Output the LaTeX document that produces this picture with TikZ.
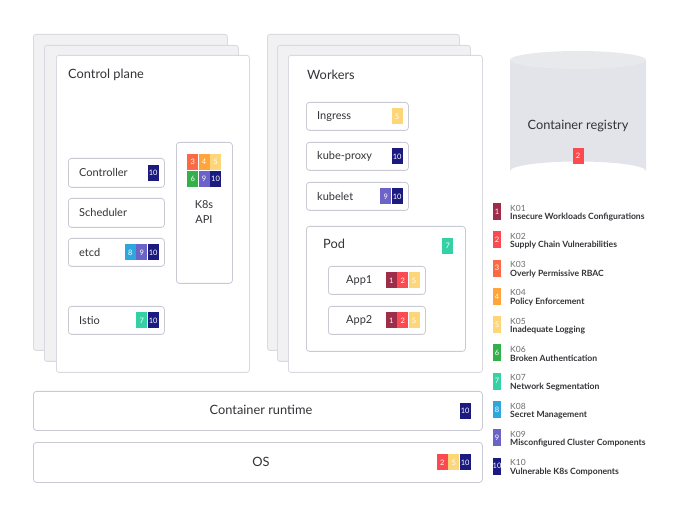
\documentclass[tikz,border=0pt]{standalone}
\usepackage{fontspec}
\setmainfont{Lato}
\definecolor{kA}{HTML}{9E2D4A}
\definecolor{kB}{HTML}{FB4A50}
\definecolor{kC}{HTML}{F96A45}
\definecolor{kD}{HTML}{FFA53B}
\definecolor{kE}{HTML}{FDD67A}
\definecolor{kF}{HTML}{34B04A}
\definecolor{kG}{HTML}{33D1A4}
\definecolor{kH}{HTML}{2EA8DC}
\definecolor{kI}{HTML}{6B63C8}
\definecolor{kJ}{HTML}{1B1A80}
\definecolor{sheetgray}{HTML}{F1F1F3}
\definecolor{sheetline}{HTML}{D9D9E0}
\definecolor{boxline}{HTML}{C9CAD4}
\definecolor{txt}{HTML}{333338}
\definecolor{cylfill}{HTML}{E3E4E9}
\definecolor{cyltop}{HTML}{E8E9ED}
\tikzset{
  sheetback/.style={draw=sheetline, fill=sheetgray, rounded corners=2.5pt, line width=0.8pt, inner sep=0pt},
  panel/.style={draw=sheetline, fill=white, rounded corners=2.5pt, line width=0.8pt, inner sep=0pt},
  comp/.style={draw=boxline, fill=white, rounded corners=3pt, line width=0.8pt, inner sep=0pt},
  lbl/.style={text=txt, font=\fontsize{11}{12}\selectfont, inner sep=0pt},
  title/.style={text=txt, font=\fontsize{12.8}{14}\selectfont, inner sep=0pt},
  badge/.style={rectangle, minimum width=11pt, minimum height=16pt, inner sep=0pt, text=white, font=\fontsize{7.5}{7.5}\selectfont},
  lbadge/.style={rectangle, minimum width=7.5pt, minimum height=17pt, inner sep=0pt, text=white, font=\fontsize{7.5}{7.5}\selectfont},
  lcode/.style={text=gray!85!black, font=\fontsize{8.5}{9}\selectfont, inner sep=0pt, anchor=west},
  lname/.style={text=txt, font=\bfseries\fontsize{8.6}{9}\selectfont, inner sep=0pt, anchor=west},
}
\newcommand{\boxat}[6]{% name, x1, y1, x2, y2, style
  \node[#6, anchor=north west, minimum width={(#4-#2)*1pt}, minimum height={(#5-#3)*1pt}] (#1) at (#2,#3) {};}
\begin{document}
\begin{tikzpicture}[x=1pt, y=-1pt]
\useasboundingbox (0,0) rectangle (680,510);
% ---------- Control plane ----------
\boxat{cpback}{33}{34}{227}{350}{sheetback}
\boxat{cpmid}{44}{45}{238}{361}{sheetback}
\boxat{cp}{56}{55}{249}{372}{panel}
\node[title, anchor=west] (cpt) at (68,75) {Control plane};

\boxat{ctrl}{68}{158}{164}{187}{comp}
\node[lbl, anchor=west] (ctrlt) at ([xshift=11pt]ctrl.west) {Controller};
\node[badge, fill=kJ, anchor=east] (ctrlb) at ([xshift=-6pt]ctrl.east) {10};

\boxat{sched}{68}{198}{164}{227}{comp}
\node[lbl, anchor=west] (schedt) at ([xshift=11pt]sched.west) {Scheduler};

\boxat{etcd}{68}{238}{164}{266}{comp}
\node[lbl, anchor=west] (etcdt) at ([xshift=11pt]etcd.west) {etcd};
\node[badge, fill=kJ, anchor=east] (etcdb3) at ([xshift=-6pt]etcd.east) {10};
\node[badge, fill=kI, anchor=east] (etcdb2) at (etcdb3.west) {9};
\node[badge, fill=kH, anchor=east] (etcdb1) at (etcdb2.west) {8};

\boxat{istio}{68}{306}{164}{334}{comp}
\node[lbl, anchor=west] (istiot) at ([xshift=11pt]istio.west) {Istio};
\node[badge, fill=kJ, anchor=east] (istiob2) at ([xshift=-6pt]istio.east) {10};
\node[badge, fill=kG, anchor=east] (istiob1) at (istiob2.west) {7};

\boxat{api}{176}{142}{232}{283}{comp}
\node[badge, fill=kC, anchor=north west] (apib3) at (187,154) {3};
\node[badge, fill=kD, anchor=west] (apib4) at (apib3.east) {4};
\node[badge, fill=kE, anchor=west] (apib5) at (apib4.east) {5};
\node[badge, fill=kF, anchor=north] (apib6) at (apib3.south) {6};
\node[badge, fill=kI, anchor=west] (apib9) at (apib6.east) {9};
\node[badge, fill=kJ, anchor=west] (apib10) at (apib9.east) {10};
\node[lbl, align=center, font=\fontsize{11}{15}\selectfont] (apit) at (204,212) {K8s\\API};

% ---------- Workers ----------
\boxat{wback}{267}{34}{459}{350}{sheetback}
\boxat{wmid}{277}{45}{470}{361}{sheetback}
\boxat{wk}{288}{55}{482}{372}{panel}
\node[title, anchor=west] (wkt) at (307,75) {Workers};

\boxat{ingr}{306}{102}{408}{130}{comp}
\node[lbl, anchor=west] (ingrt) at ([xshift=11pt]ingr.west) {Ingress};
\node[badge, fill=kE, anchor=east] (ingrb) at ([xshift=-6pt]ingr.east) {5};

\boxat{kprox}{306}{142}{408}{170}{comp}
\node[lbl, anchor=west] (kproxt) at ([xshift=11pt]kprox.west) {kube-proxy};
\node[badge, fill=kJ, anchor=east] (kproxb) at ([xshift=-6pt]kprox.east) {10};

\boxat{klet}{306}{182}{408}{210}{comp}
\node[lbl, anchor=west] (kltt) at ([xshift=11pt]klet.west) {kubelet};
\node[badge, fill=kJ, anchor=east] (kletb2) at ([xshift=-6pt]klet.east) {10};
\node[badge, fill=kI, anchor=east] (kletb1) at (kletb2.west) {9};

\boxat{pod}{306}{226}{465}{351}{comp}
\node[title, anchor=west] (podt) at (323,244) {Pod};
\node[badge, fill=kG, anchor=north west] (podb) at (442,238) {7};

\boxat{appa}{328}{266}{425}{294}{comp}
\node[lbl, anchor=west] (appat) at ([xshift=18pt]appa.west) {App1};
\node[badge, fill=kE, anchor=east] (appab3) at ([xshift=-6pt]appa.east) {5};
\node[badge, fill=kB, anchor=east] (appab2) at (appab3.west) {2};
\node[badge, fill=kA, anchor=east] (appab1) at (appab2.west) {1};

\boxat{appb}{328}{306}{425}{334}{comp}
\node[lbl, anchor=west] (appbt) at ([xshift=18pt]appb.west) {App2};
\node[badge, fill=kE, anchor=east] (appbb3) at ([xshift=-6pt]appb.east) {5};
\node[badge, fill=kB, anchor=east] (appbb2) at (appbb3.west) {2};
\node[badge, fill=kA, anchor=east] (appbb1) at (appbb2.west) {1};

% ---------- Bottom layers ----------
\boxat{crt}{33}{391}{482}{430}{comp}
\node[title] (crtt) at (261,410) {Container runtime};
\node[badge, fill=kJ, anchor=east] (crtb) at ([xshift=-12pt]crt.east) {10};

\boxat{os}{33}{442}{482}{482}{comp}
\node[title] (ost) at (261,461.5) {OS};
\node[badge, fill=kJ, anchor=east] (osb3) at ([xshift=-12pt]os.east) {10};
\node[badge, fill=kE, anchor=east] (osb2) at (osb3.west) {5};
\node[badge, fill=kB, anchor=east] (osb1) at (osb2.west) {2};

% ---------- Container registry ----------
\fill[cylfill] (510,60) -- (510,171) arc[start angle=180, end angle=360, x radius=68, y radius=9.5] -- (646,60) -- cycle;
\fill[cyltop] (578,60) ellipse[x radius=68, y radius=9];
\node[title] (regt) at (578,126) {Container registry};
\node[badge, fill=kB] (regb) at (578,156) {2};

% ---------- Legend ----------
\foreach \i/\c/\code/\name in {
  0/kA/K01/Insecure Workloads Configurations,
  1/kB/K02/Supply Chain Vulnerabilities,
  2/kC/K03/Overly Permissive RBAC,
  3/kD/K04/Policy Enforcement,
  4/kE/K05/Inadequate Logging,
  5/kF/K06/Broken Authentication,
  6/kG/K07/Network Segmentation,
  7/kH/K08/Secret Management,
  8/kI/K09/Misconfigured Cluster Components,
  9/kJ/K10/Vulnerable K8s Components}{
  \pgfmathsetmacro{\yy}{211.5+28.3*\i}
  \pgfmathtruncatemacro{\nn}{\i+1}
  \node[lbadge, fill=\c] (lb\nn) at (497,\yy) {\nn};
  \node[lcode] (lc\nn) at (510,\yy-3.5) {\code};
  \node[lname] (ln\nn) at (510,\yy+5.5) {\name};
}
\end{tikzpicture}
\end{document}
